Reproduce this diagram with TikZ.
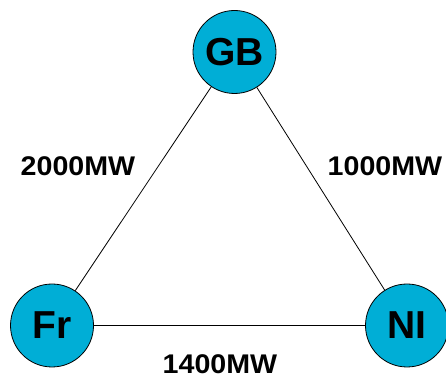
\documentclass[tikz,border=0pt]{standalone}
\usepackage{fontspec}
\setmainfont{Liberation Sans}
\definecolor{nodeblue}{RGB}{0,174,214}
\begin{document}
\begin{tikzpicture}[x=1pt,y=1pt]
\tikzset{
  site/.style={circle, draw=black, line width=0.8pt, fill=nodeblue, minimum size=83pt, inner sep=0pt, font=\fontsize{39}{39}\selectfont\bfseries},
  link/.style={draw=black, line width=0.8pt},
  mwlabel/.style={font=\fontsize{27}{27}\selectfont\bfseries, inner sep=0pt}
}
\useasboundingbox (0,0) rectangle (446,374);
\clip (0,0) rectangle (446,374);
\node[site] (gb) at (234.5,322) {GB};
\node[site] (fr) at (52,48.5) {Fr};
\node[site] (ni) at (407,48.5) {NI};
\draw[link] (gb) -- (fr);
\draw[link] (gb) -- (ni);
\draw[link] (fr) -- (ni);
\node[mwlabel] (l1) at (78,207.5) {\scalebox{1.06}[1]{2000MW}};
\node[mwlabel] (l2) at (385,207.5) {\scalebox{1.06}[1]{1000MW}};
\node[mwlabel] (l3) at (220,9.5) {\scalebox{1.06}[1]{1400MW}};
\end{tikzpicture}
\end{document}
